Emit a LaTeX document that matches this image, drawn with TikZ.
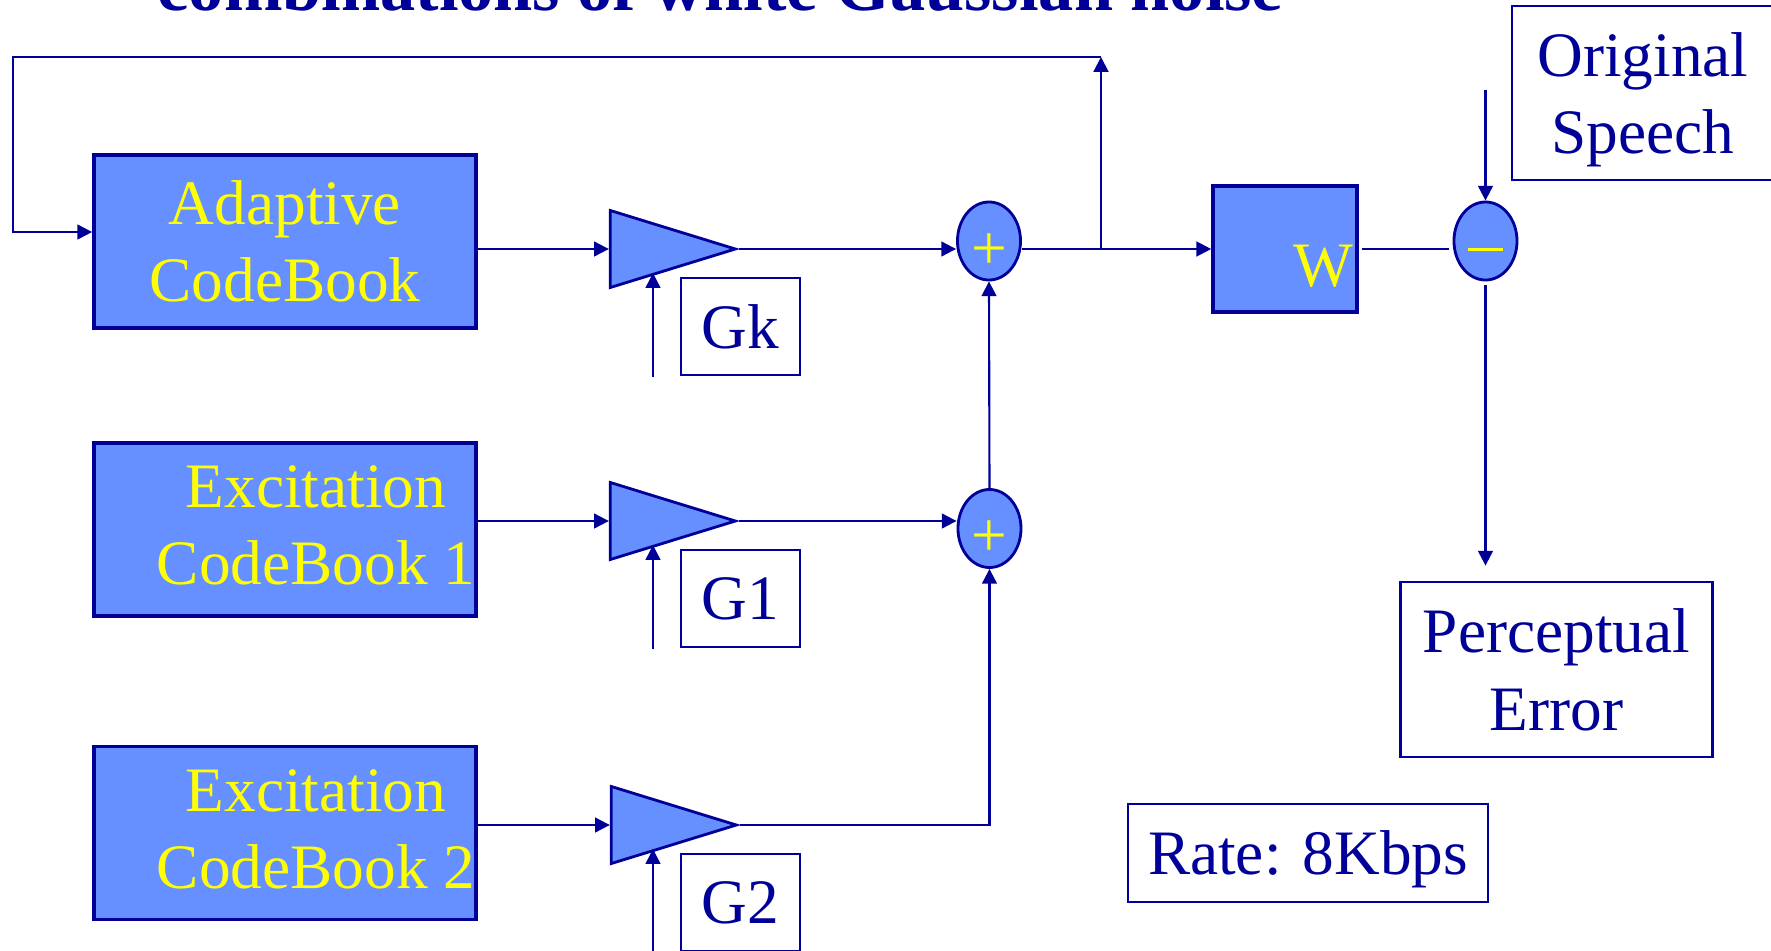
\documentclass[tikz,border=0pt]{standalone}
\usepackage{fontspec}
\setmainfont{Liberation Serif}
\usetikzlibrary{positioning,arrows.meta,shapes.geometric,calc}
\definecolor{cnavy}{HTML}{000099}
\definecolor{cfill}{HTML}{6690FF}
\definecolor{cyel}{HTML}{FFFF00}
\tikzset{cbook/.style={rectangle, draw=cnavy, fill=cfill, line width=1pt, inner sep=0pt, text=cyel, align=center, font=\fontsize{18}{22}\selectfont}}
\tikzset{cbtext/.style={text=cyel, align=center, inner sep=0pt, font=\fontsize{18}{22}\selectfont}}
\tikzset{camp/.style={isosceles triangle, isosceles triangle stretches, draw=cnavy, fill=cfill, line width=0.8pt, inner sep=0pt, minimum width=0.77cm, minimum height=1.25cm, anchor=apex}}
\tikzset{csum/.style={ellipse, draw=cnavy, fill=cfill, line width=0.8pt, inner sep=0pt, minimum width=0.63cm, minimum height=0.78cm, text=cyel, font=\fontsize{18}{22}\selectfont}}
\tikzset{cplain/.style={rectangle, draw=cnavy, fill=white, line width=0.7pt, inner sep=0pt, text=cnavy, align=center, text depth=0pt, font=\fontsize{18}{22}\selectfont}}
\tikzset{ctitle/.style={text=cnavy, inner sep=0pt, font=\fontsize{20}{24}\selectfont\bfseries}}
\tikzset{carrow/.style={-{Triangle[length=4.2pt,width=4.2pt]}, draw=cnavy, line width=0.6pt}}
\tikzset{cline/.style={draw=cnavy, line width=0.6pt}}

\begin{document}
\begin{tikzpicture}[x=0.01cm, y=-0.01cm]
  \useasboundingbox (0,0) rectangle (1771,951);
  \node[ctitle, anchor=base west] (title) at (157,10) {combinations of white Gaussian noise};

  % codebooks
  \node[cbook, minimum width=3.82cm, minimum height=1.73cm] (adaptive) at (285,241.5) {Adaptive\\CodeBook};
  \node[cbook, minimum width=3.82cm, minimum height=1.73cm] (excite1) at (285,529.5) {};
  \node[cbtext] (excite1txt) at (316,525.5) {Excitation\\CodeBook 1};
  \node[cbook, minimum width=3.82cm, minimum height=1.73cm] (excite2) at (285,833) {};
  \node[cbtext] (excite2txt) at (316,829.5) {Excitation\\CodeBook 2};

  % gains
  \node[camp] (ampk) at (739,249) {};
  \node[camp] (amp1) at (739,521) {};
  \node[camp] (amp2) at (740,825) {};
  \node[cplain, minimum width=1.19cm, minimum height=0.97cm] (gaink) at (740.5,326.5) {Gk};
  \node[cplain, minimum width=1.19cm, minimum height=0.97cm] (gain1) at (740.5,598.5) {G1};
  \node[cplain, minimum width=1.19cm, minimum height=0.97cm] (gain2) at (740.5,902.5) {G2};
  \coordinate (gkin) at (653,377);
  \coordinate (g1in) at (653,649);
  \coordinate (g2in) at (653,965);

  % adders, weighting, error
  \node[csum] (suma) at (989,241) {\smash{\raisebox{-8pt}{+}}};
  \node[csum] (sumb) at (989.5,528.5) {\smash{\raisebox{-8pt}{+}}};
  \node[cbook, minimum width=1.44cm, minimum height=1.26cm] (weight) at (1285,249) {};
  \node[cbtext, anchor=base east] (wtxt) at (1354,286) {W};
  \node[csum] (diff) at (1485.5,241) {\smash{\rule[-2.75pt]{9.7pt}{0.85pt}}};

  \node[cplain, minimum width=2.62cm, minimum height=1.74cm] (speech) at (1643,93) {Original\\Speech};
  \node[cplain, minimum width=3.12cm, minimum height=1.75cm] (percerr) at (1556.5,669.5) {Perceptual\\Error};
  \node[cplain, minimum width=3.6cm, minimum height=0.98cm] (rate) at (1308,853) {Rate: 8Kbps};

  \coordinate (tap) at (1101,249);
  \coordinate (fbtop) at (1101,57);
  \coordinate (fbcorner) at (13,57);
  \coordinate (fbin) at (13,232);
  \coordinate (spin) at (1485.5,90);

  \draw[carrow] (adaptive.east |- ampk.apex) -- (ampk.west |- ampk.apex);
  \draw[carrow] (excite1.east |- amp1.apex) -- (amp1.west |- amp1.apex);
  \draw[carrow] (excite2.east |- amp2.apex) -- (amp2.west |- amp2.apex);

  \draw[carrow] (gkin) -- ([yshift=2pt]gkin |- ampk.south);
  \draw[carrow] (g1in) -- ([yshift=2pt]g1in |- amp1.south);
  \draw[carrow] (g2in) -- ([yshift=2pt]g2in |- amp2.south);

  \draw[carrow] (ampk.apex) -- (ampk.apex -| suma.west);
  \draw[carrow] (amp1.apex) -- (amp1.apex -| sumb.west);
  \draw[carrow] (amp2.apex) -| (sumb.south);
  \draw[carrow] (sumb.north) -- (suma.south);

  \draw[carrow] (suma.east |- weight.west) -- (weight.west);
  \draw[carrow] (tap) -- (fbtop);
  \draw[carrow] (fbtop) -- (fbcorner) -- (fbin) -- (fbin -| adaptive.west);

  \draw[cline, shorten <=1pt, shorten >=1pt] (weight.east) -- (weight.east -| diff.west);
  \draw[carrow] (spin) -- (diff.north);
  \draw[carrow, shorten <=1pt, shorten >=4.3pt] (diff.south) -- (diff.south |- percerr.north);
\end{tikzpicture}
\end{document}
